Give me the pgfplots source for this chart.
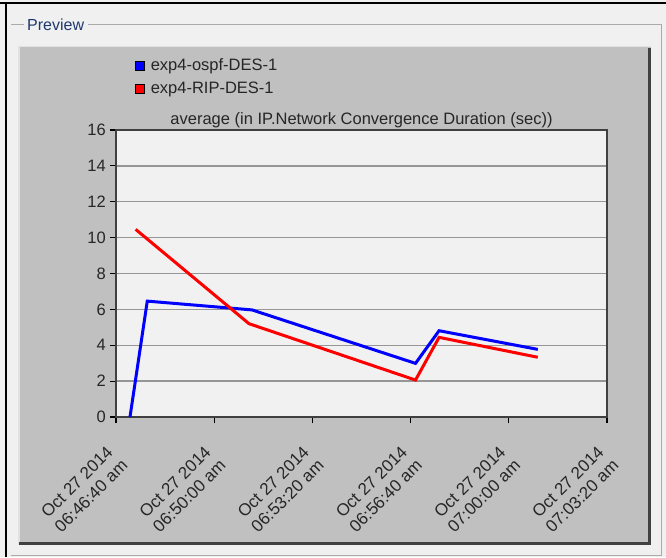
\documentclass[border=0pt]{standalone}
\usepackage{pgfplots}
\pgfplotsset{compat=1.18}
\usepackage{fontspec}
\setmainfont{Liberation Sans}
\definecolor{winbg}{RGB}{240,240,240}
\definecolor{panel}{RGB}{192,192,192}
\definecolor{plotbg}{RGB}{241,241,241}
\definecolor{gridc}{RGB}{150,150,150}
\definecolor{etch}{RGB}{170,170,170}
\definecolor{darkedge}{RGB}{64,64,64}
\definecolor{lightedge}{RGB}{225,225,225}
\definecolor{prevtxt}{RGB}{30,57,110}
\begin{document}
\begin{tikzpicture}
\useasboundingbox (0pt,0pt) rectangle (666pt,557pt);
\fill[winbg] (0pt,0pt) rectangle (666pt,557pt);
\draw[black, line width=2.5pt] (0pt,554pt) -- (666pt,554pt);
\draw[black, line width=2.5pt] (6pt,555pt) -- (6pt,0pt);
\draw[etch, line width=1pt] (24pt,532pt) -- (11pt,532pt);
\draw[etch, line width=1pt] (88pt,532pt) -- (661pt,532pt) -- (661pt,2pt) -- (11pt,2pt);
\node[anchor=base west, font=\fontsize{16}{18}\selectfont, text=prevtxt, inner sep=0pt] at (27pt,526pt) {Preview};
\fill[panel] (18pt,12pt) rectangle (651pt,511pt);
\draw[lightedge, line width=1.5pt] (18.75pt,12pt) -- (18.75pt,510.25pt) -- (651pt,510.25pt);
\draw[darkedge, line width=3pt] (19pt,13.5pt) -- (649.5pt,13.5pt) -- (649.5pt,509pt);
\begin{axis}[
  at={(116pt,140pt)}, anchor=south west, scale only axis,
  width=491pt, height=287pt,
  xmin=0, xmax=1000, ymin=0, ymax=16,
  xtick={0,200,...,1000}, ytick={0,2,...,16},
  xticklabels={{Oct 27 2014\\06:46:40 am},{Oct 27 2014\\06:50:00 am},{Oct 27 2014\\06:53:20 am},{Oct 27 2014\\06:56:40 am},{Oct 27 2014\\07:00:00 am},{Oct 27 2014\\07:03:20 am}},
  tick pos=left, tick align=outside, major tick length=6pt,
  tick style={black, line width=1.2pt},
  ymajorgrids, grid style={gridc, line width=1.3pt},
  axis background/.style={fill=plotbg},
  axis line style={darkedge, line width=1.5pt},
  /pgf/number format/assume math mode=true,
  yticklabel style={font=\fontsize{16.5}{19.5}\selectfont, text=black!85, anchor=east, inner sep=0pt, xshift=-4pt},
  xticklabel style={font=\fontsize{17}{20}\selectfont, text=black!85, xshift=-10pt, yshift=-21pt, rotate=45, anchor=north east, inner sep=0pt, align=center},
  title={average (in IP.Network Convergence Duration (sec))},
  title style={at={(0.5,1)}, anchor=base, yshift=-1pt, inner sep=0pt, font=\fontsize{16.5}{19}\selectfont, text=black!85},
  legend style={at={(0.032,1.259)}, anchor=north west, draw=none, fill=none,
    font=\fontsize{16.5}{19}\selectfont, text=black!85, row sep=8pt,
    nodes={inner sep=1pt}},
  legend cell align=left,
  clip=false,
]
\addplot[blue, line width=3pt, legend image code/.code={\draw[black, fill=blue, line width=0.7pt] (0pt,-4.5pt) rectangle (9pt,4.5pt); \path (13pt,0pt);}] coordinates {(28.5,0) (63.7,6.46) (277,5.97) (610,2.99) (658,4.81) (859,3.77)};
\addlegendentry{exp4-ospf-DES-1}
\addplot[red, line width=3pt, legend image code/.code={\draw[black, fill=red, line width=0.7pt] (0pt,-4.5pt) rectangle (9pt,4.5pt); \path (13pt,0pt);}] coordinates {(40,10.46) (271,5.2) (610,2.06) (658,4.44) (859,3.33)};
\addlegendentry{exp4-RIP-DES-1}
\end{axis}
\end{tikzpicture}
\end{document}
